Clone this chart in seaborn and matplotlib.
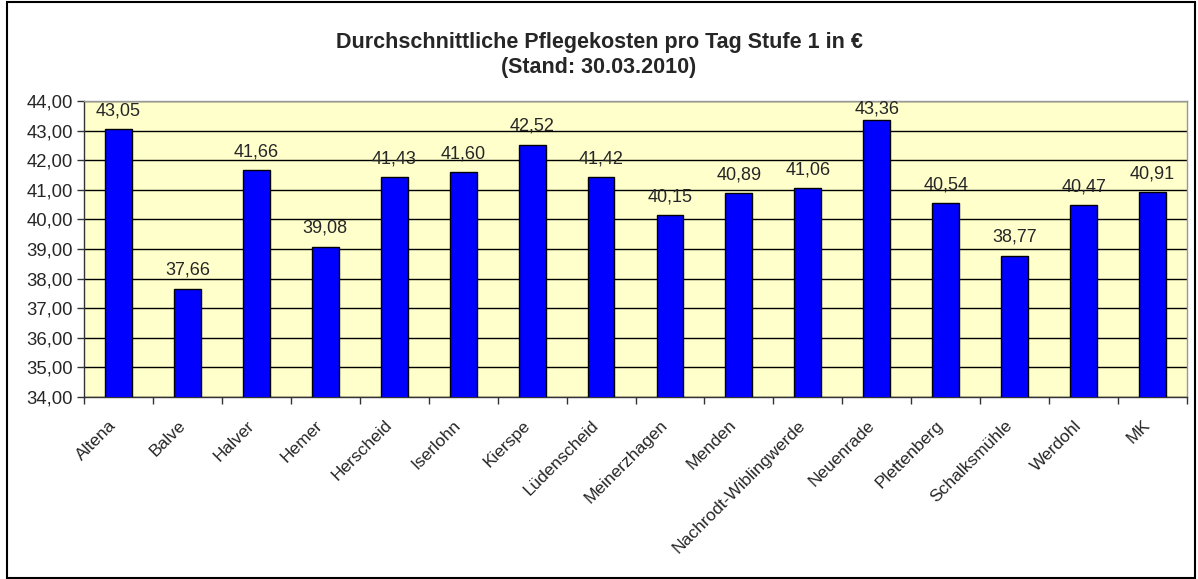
import pandas as pd
import matplotlib.pyplot as plt
import matplotlib.patches as mpatches
import matplotlib.transforms as mtransforms
from matplotlib.ticker import FuncFormatter, FixedLocator
import seaborn as sns

orte = ["Altena", "Balve", "Halver", "Hemer", "Herscheid", "Iserlohn", "Kierspe",
        "Lüdenscheid", "Meinerzhagen", "Menden", "Nachrodt-Wiblingwerde", "Neuenrade",
        "Plettenberg", "Schalksmühle", "Werdohl", "MK"]
kosten = [43.05, 37.66, 41.66, 39.08, 41.43, 41.60, 42.52, 41.42, 40.15, 40.89,
          41.06, 43.36, 40.54, 38.77, 40.47, 40.91]

df = pd.DataFrame({"Ort": orte, "Kosten": kosten})

sns.set_style("ticks")
plt.rcParams["font.family"] = ["Liberation Sans", "DejaVu Sans"]

fig = plt.figure(figsize=(11.98, 5.79), dpi=100)
ax = fig.add_axes([84 / 1198, 1 - 397 / 579, (1187 - 84) / 1198, (397 - 101) / 579])

sns.barplot(x="Ort", y="Kosten", data=df, color="#0000FF", edgecolor="black",
            linewidth=1, width=0.39, saturation=1, ax=ax, zorder=3)

ax.set_facecolor("#FFFFCC")
ax.set_ylim(34, 44)
ax.set_xlim(-0.5, len(orte) - 0.5)
ax.set_yticks(range(34, 45))
ax.yaxis.set_major_formatter(FuncFormatter(lambda v, p: f"{v:.2f}".replace(".", ",")))
ax.grid(axis="y", color="black", linewidth=1, zorder=0)
ax.set_axisbelow(True)
ax.set_xlabel("")
ax.set_ylabel("")

# Excel-style tick marks between categories
ax.xaxis.set_minor_locator(FixedLocator([i - 0.5 for i in range(len(orte) + 1)]))
ax.tick_params(axis="x", which="major", length=0, pad=9)
ax.tick_params(axis="x", which="minor", length=5, width=1, color="#333333")
ax.tick_params(axis="y", length=5, width=1, color="#333333", labelsize=13.3, pad=3)
shift = mtransforms.ScaledTranslation(-0.10, -0.08, fig.dpi_scale_trans)
for lab in ax.get_xticklabels():
    lab.set_rotation(45)
    lab.set_ha("right")
    lab.set_rotation_mode("anchor")
    lab.set_fontsize(12.5)
    lab.set_transform(lab.get_transform() + shift)

for s in ["top", "right"]:
    ax.spines[s].set_color("#999999")
for s in ["left", "bottom"]:
    ax.spines[s].set_color("#333333")
for s in ax.spines.values():
    s.set_linewidth(1)

# data labels above bars, kept inside the plot area like Excel does
for i, v in enumerate(kosten):
    ax.text(i, min(v + 0.47, 43.58), f"{v:.2f}".replace(".", ","), ha="center",
            va="baseline", fontsize=13, zorder=4)

fig.text(0.5, 0.905, "Durchschnittliche Pflegekosten pro Tag Stufe 1 in €\n(Stand: 30.03.2010)",
         ha="center", va="center", fontsize=15.5, fontweight="bold", linespacing=1.2)

fig.patches.append(mpatches.Rectangle((7 / 1198, 0.002), 1 - 10 / 1198, 0.995,
                                      transform=fig.transFigure, fill=False,
                                      edgecolor="black", linewidth=1.5))

fig.savefig("out.png", dpi=100)
